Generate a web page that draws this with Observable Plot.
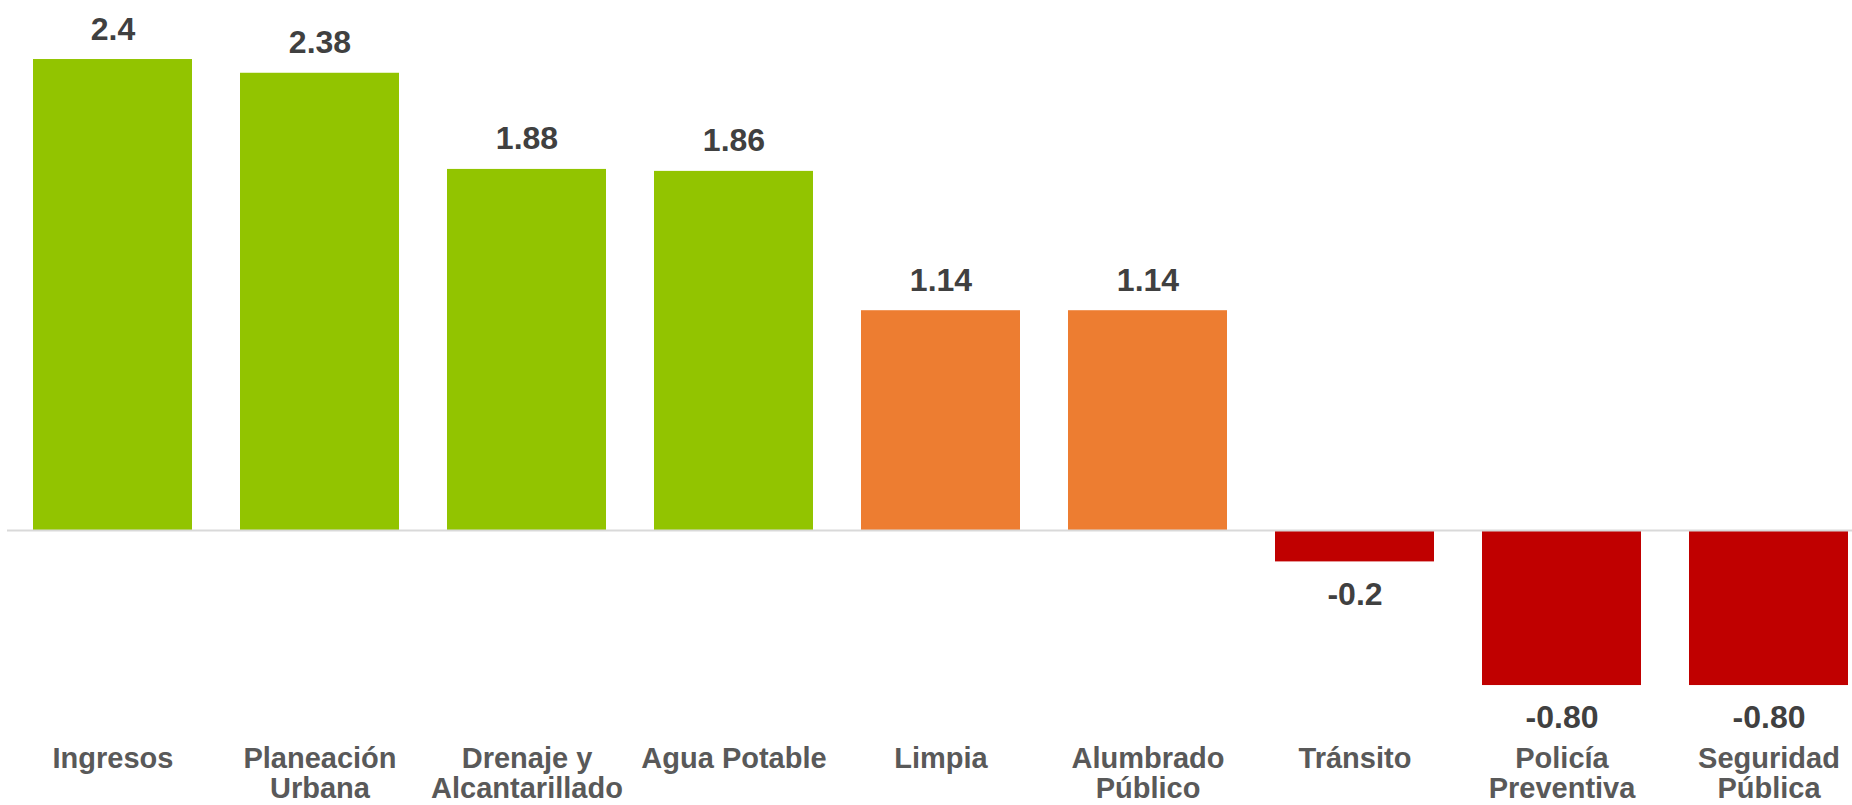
<!DOCTYPE html>
<html>
<head>
<meta charset="utf-8">
<script src="https://cdn.jsdelivr.net/npm/d3@7"></script>
<script src="https://cdn.jsdelivr.net/npm/@observablehq/plot@0.6"></script>
<style>
  html, body { margin: 0; padding: 0; background: #fff; overflow: hidden; }
  #chart svg { display: block; overflow: hidden; }
</style>
</head>
<body>
<div id="chart"></div>
<script>
// Categories (line breaks as in the original axis labels)
const categories = [
  "Ingresos", "Planeación\nUrbana", "Drenaje y\nAlcantarillado", "Agua Potable",
  "Limpia", "Alumbrado\nPúblico", "Tránsito", "Policía\nPreventiva", "Seguridad\nPública"
];
// Bar heights as drawn in the picture
const values = [2.40, 2.33, 1.84, 1.83, 1.12, 1.12, -0.16, -0.79, -0.79];
// Data labels as printed
const valueLabels = ["2.4", "2.38", "1.88", "1.86", "1.14", "1.14", "-0.2", "-0.80", "-0.80"];
// Color group of each bar
const groups = ["alto", "alto", "alto", "alto", "medio", "medio", "bajo", "bajo", "bajo"];
const groupNames = ["alto", "medio", "bajo"];
const groupColors = ["#92c400", "#ed7d31", "#c00000"];

const data = categories.map((c, i) => ({
  cat: c, value: values[i], label: valueLabels[i], group: groups[i]
}));

const font = "'Liberation Sans', Arial, sans-serif";

const chart = Plot.plot({
  width: 1852,
  height: 805,
  marginLeft: 7,
  marginRight: -22,
  marginTop: 39.4,
  marginBottom: 78.75,
  style: { fontFamily: font, background: "#fff" },
  x: { domain: categories, paddingInner: 0.231, paddingOuter: 0.1155, align: 0.5, axis: null },
  y: { domain: [-1, 2.5], axis: null },
  color: { domain: groupNames, range: groupColors },
  marks: [
    Plot.barY(data, { x: "cat", y: "value", fill: "group" }),
    Plot.ruleY([0], { stroke: "#d9d9d9", strokeWidth: 2 }),
    Plot.text(data.filter(d => d.value >= 0), {
      x: "cat", y: "value", text: "label",
      lineAnchor: "bottom", dy: -20,
      fontSize: 32, fontWeight: "bold", fill: "#404040"
    }),
    Plot.text(data.filter(d => d.value < 0), {
      x: "cat", y: "value", text: "label",
      lineAnchor: "top", dy: 20,
      fontSize: 32, fontWeight: "bold", fill: "#404040"
    }),
    Plot.text(data, {
      x: "cat", text: "cat", frameAnchor: "bottom",
      lineAnchor: "top", dy: 20, lineHeight: 1.04,
      fontSize: 29, fontWeight: "bold", fill: "#595959"
    })
  ]
});

document.getElementById("chart").appendChild(chart);
</script>
</body>
</html>
